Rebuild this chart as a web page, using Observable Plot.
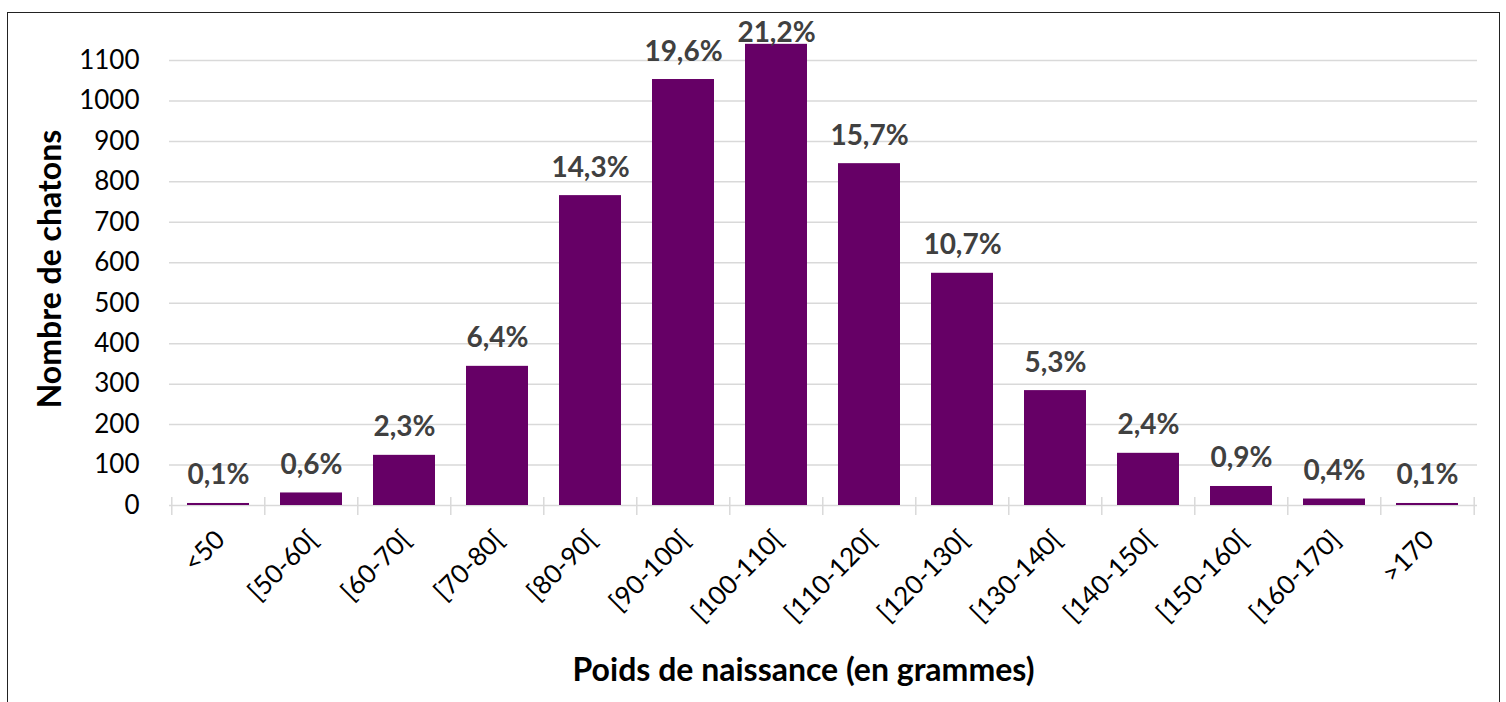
<!DOCTYPE html>
<html>
<head>
<meta charset="utf-8">
<script src="https://cdn.jsdelivr.net/npm/d3@7"></script>
<script src="https://cdn.jsdelivr.net/npm/@observablehq/plot@0.6"></script>
<style>
  html, body { margin: 0; padding: 0; background: #fff; overflow: hidden; }
  #wrap { position: relative; width: 1506px; height: 702px; }
  #frame { position: absolute; left: 7px; top: 12px; width: 1493px; height: 720px; border: 1.5px solid #222; box-sizing: border-box; }
  #chart { position: absolute; left: 0; top: 0; }
</style>
</head>
<body>
<div id="wrap"><div id="frame"></div><div id="chart"></div></div>
<script>
const categories = ["<50", "[50-60[", "[60-70[", "[70-80[", "[80-90[", "[90-100[", "[100-110[", "[110-120[", "[120-130[", "[130-140[", "[140-150[", "[150-160[", "[160-170]", ">170"];
const counts = [5, 31, 124, 344, 766, 1053, 1140, 845, 574, 284, 129, 47, 16, 5];
const percentLabels = ["0,1%", "0,6%", "2,3%", "6,4%", "14,3%", "19,6%", "21,2%", "15,7%", "10,7%", "5,3%", "2,4%", "0,9%", "0,4%", "0,1%"];
const yTicks = [0, 100, 200, 300, 400, 500, 600, 700, 800, 900, 1000, 1100];
const xTitle = "Poids de naissance (en grammes)";
const yTitle = "Nombre de chatons";

const data = categories.map((c, i) => ({cat: c, n: counts[i], label: percentLabels[i]}));

const W = 1506, H = 702, mL = 169, mR = 29, mT = 60, mB = 197;
const step = (W - mL - mR) / categories.length;
const pxPerUnit = (H - mT - mB) / 1100;
const labelGap = 19;           // px between bar top and label
const labelTopLimit = 41;      // px: labels are kept inside the chart area, like Excel
const labelMax = (H - mB - labelTopLimit) / pxPerUnit;
const font = "Lato, 'Open Sans', sans-serif";

const chart = Plot.plot({
  width: W, height: H,
  marginLeft: mL, marginRight: mR, marginTop: mT, marginBottom: mB,
  style: {fontFamily: font, background: "transparent", overflow: "visible"},
  x: {domain: categories, paddingInner: 0.33, paddingOuter: 0.165},
  y: {domain: [0, 1100]},
  marks: [
    Plot.gridY(yTicks, {stroke: "#d9d9d9", strokeOpacity: 1, strokeWidth: 1.5}),
    Plot.ruleX(categories, {x: d => d, y1: 20, y2: -25, dx: -step / 2, stroke: "#d9d9d9", strokeWidth: 1.5}),
    Plot.ruleX([categories[categories.length - 1]], {x: d => d, y1: 20, y2: -25, dx: step / 2, stroke: "#d9d9d9", strokeWidth: 1.5}),
    Plot.barY(data, {x: "cat", y: "n", fill: "#660066"}),
    Plot.text(data, {x: "cat", y: d => Math.min(d.n + labelGap / pxPerUnit, labelMax), text: "label", fontSize: 28, fontWeight: "bold", fill: "#404040", lineAnchor: "bottom"}),
    Plot.axisY(yTicks, {tickSize: 0, tickPadding: 30, fontSize: 26, label: null, fill: "#000", tickFormat: d => String(d)}),
    Plot.axisX({tickSize: 0, tickRotate: -45, tickPadding: 30, dx: 2, fontSize: 26, label: null, fill: "#000"}),
    Plot.text([yTitle], {frameAnchor: "left", textAnchor: "middle", rotate: -90, dx: -119, dy: -14, fontSize: 32, fontWeight: "bold", fill: "#000"}),
    Plot.text([xTitle], {frameAnchor: "bottom", textAnchor: "middle", dx: -20, dy: 175, fontSize: 32, fontWeight: "bold", fill: "#000"})
  ]
});
document.getElementById("chart").appendChild(chart);
</script>
</body>
</html>
